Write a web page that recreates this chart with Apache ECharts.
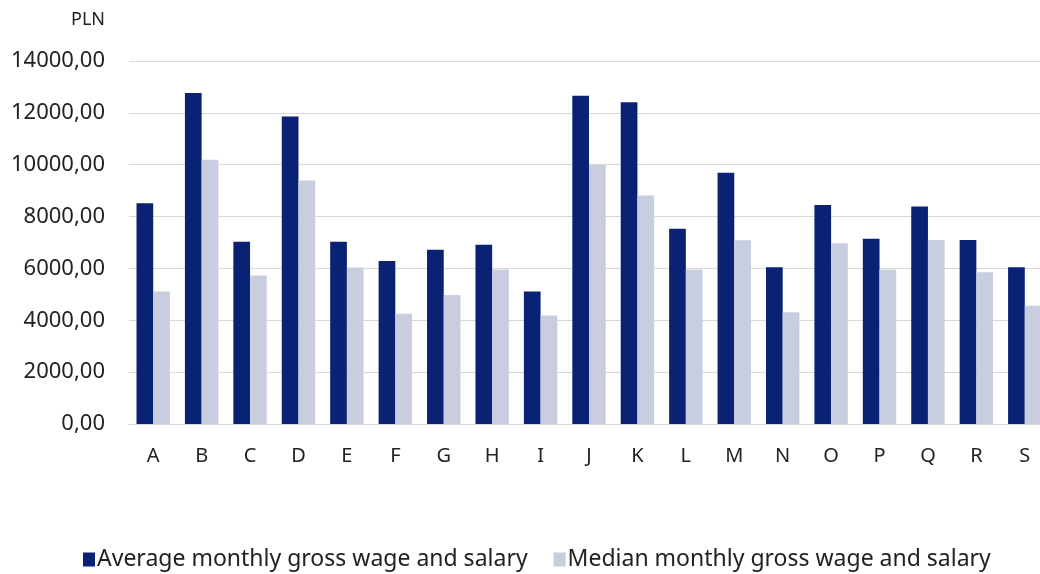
<!DOCTYPE html>
<html><head><meta charset="utf-8">
<script src="https://cdn.jsdelivr.net/npm/echarts@6/dist/echarts.min.js"></script>
<style>html,body{margin:0;padding:0;background:#fff}#c{width:1040px;height:574px}</style>
</head><body><div id="c"></div>
<script>
const categories = ['A','B','C','D','E','F','G','H','I','J','K','L','M','N','O','P','Q','R','S'];
const averageWage = [8510,12770,7030,11860,7030,6290,6720,6910,5110,12660,12410,7530,9690,6050,8450,7140,8390,7100,6050];
const medianWage  = [5110,10190,5730,9390,6040,4250,4980,5960,4180,10000,8810,5960,7090,4310,6970,5960,7100,5850,4560];
const seriesNames = ['Average monthly gross wage and salary','Median monthly gross wage and salary'];
const unitLabel = 'PLN';

const chart = echarts.init(document.getElementById('c'));
const font = '"Noto Sans", sans-serif';
chart.setOption({
  animation: false,
  textStyle: { fontFamily: font },
  grid: { left: 129, width: 920, top: 61, bottom: 150, outerBoundsMode: 'none', containLabel: false },
  legend: {
    bottom: -2, left: 78, itemWidth: 12, itemHeight: 14, itemGap: 26,
    icon: 'rect',
    textStyle: { fontSize: 23, color: '#222', fontFamily: font, padding: [0, 0, 0, -3] },
    data: seriesNames
  },
  xAxis: {
    type: 'category', data: categories,
    axisTick: { show: false },
    axisLine: { lineStyle: { color: '#d9d9d9', width: 1 } },
    axisLabel: { fontSize: 20, color: '#222', margin: 22 }
  },
  yAxis: {
    type: 'value', min: 0, max: 14000, interval: 2000,
    name: unitLabel, nameLocation: 'end', nameGap: 32,
    nameTextStyle: { fontSize: 18, color: '#222', align: 'right', padding: [0, 24, 0, 0] },
    axisLabel: { fontSize: 22, color: '#222', margin: 24,
      formatter: v => v.toFixed(2).replace('.', ',') },
    splitLine: { lineStyle: { color: '#d9d9d9', width: 1 } }
  },
  series: [
    { name: seriesNames[0], type: 'bar', data: averageWage, barGap: '0%', barCategoryGap: '31%',
      itemStyle: { color: '#0a2274' } },
    { name: seriesNames[1], type: 'bar', data: medianWage,
      itemStyle: { color: '#c8cee0' } }
  ]
});
</script></body></html>
